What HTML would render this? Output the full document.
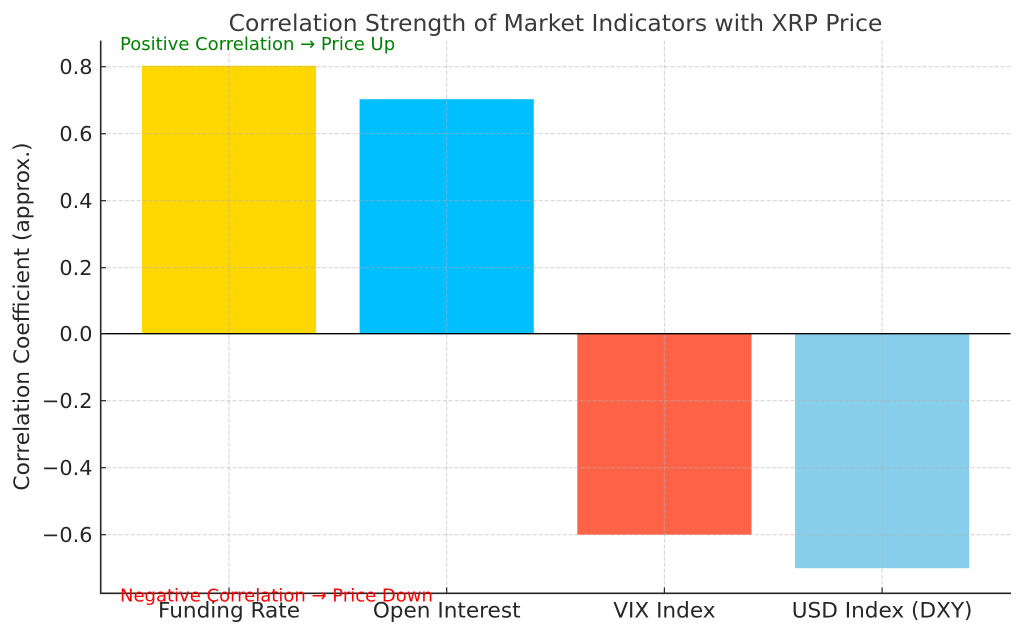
<!DOCTYPE html>
<html>
<head>
<meta charset="utf-8">
<style>
html,body{margin:0;padding:0;background:#fff;}
svg{display:block;}
text{font-family:"DejaVu Sans","Liberation Sans",sans-serif;}
</style>
</head>
<body>
<svg width="1024" height="635" viewBox="0 0 1024 635" xmlns="http://www.w3.org/2000/svg">
<rect width="1024" height="635" fill="#fff"/>
<!-- bars -->
<rect x="141.9" y="65.7" width="174.2" height="268" fill="#FFD700"/>
<rect x="359.6" y="99.2" width="174.2" height="234.5" fill="#00BFFF"/>
<rect x="577.3" y="333.7" width="174.2" height="201" fill="#FF6347"/>
<rect x="795" y="333.7" width="174.2" height="234.5" fill="#87CEEB"/>
<!-- grid -->
<g stroke="#b0b0b0" stroke-opacity="0.6" stroke-width="1" stroke-dasharray="4,2" fill="none">
<line x1="100.6" y1="66.7" x2="1010.5" y2="66.7"/>
<line x1="100.6" y1="133.7" x2="1010.5" y2="133.7"/>
<line x1="100.6" y1="200.7" x2="1010.5" y2="200.7"/>
<line x1="100.6" y1="267.7" x2="1010.5" y2="267.7"/>
<line x1="100.6" y1="400.7" x2="1010.5" y2="400.7"/>
<line x1="100.6" y1="467.7" x2="1010.5" y2="467.7"/>
<line x1="100.6" y1="534.7" x2="1010.5" y2="534.7"/>
<line x1="229" y1="40.6" x2="229" y2="593"/>
<line x1="446.7" y1="40.6" x2="446.7" y2="593"/>
<line x1="664.4" y1="40.6" x2="664.4" y2="593"/>
<line x1="882.1" y1="40.6" x2="882.1" y2="593"/>
</g>
<!-- zero line -->
<line x1="100.6" y1="333.7" x2="1010.5" y2="333.7" stroke="#000" stroke-width="1.3"/>
<!-- spines -->
<line x1="100.7" y1="40.6" x2="100.7" y2="593.8" stroke="#262626" stroke-width="1.6"/>
<line x1="100" y1="593.3" x2="1011" y2="593.3" stroke="#262626" stroke-width="1.6"/>
<!-- ticks -->
<g stroke="#262626" stroke-width="1.2">
<line x1="100.7" y1="66.7" x2="106" y2="66.7"/>
<line x1="100.7" y1="133.7" x2="106" y2="133.7"/>
<line x1="100.7" y1="200.7" x2="106" y2="200.7"/>
<line x1="100.7" y1="267.7" x2="106" y2="267.7"/>
<line x1="100.7" y1="333.7" x2="106" y2="333.7"/>
<line x1="100.7" y1="400.7" x2="106" y2="400.7"/>
<line x1="100.7" y1="467.7" x2="106" y2="467.7"/>
<line x1="100.7" y1="534.7" x2="106" y2="534.7"/>
<line x1="229" y1="593" x2="229" y2="587.5"/>
<line x1="446.7" y1="593" x2="446.7" y2="587.5"/>
<line x1="664.4" y1="593" x2="664.4" y2="587.5"/>
<line x1="882.1" y1="593" x2="882.1" y2="587.5"/>
</g>
<!-- y tick labels -->
<g fill="#262626" font-size="20.8" text-anchor="end">
<text x="92.5" y="74.2">0.8</text>
<text x="92.5" y="141.2">0.6</text>
<text x="92.5" y="208.2">0.4</text>
<text x="92.5" y="275.2">0.2</text>
<text x="92.5" y="341.2">0.0</text>
<text x="92.5" y="408.2">−0.2</text>
<text x="92.5" y="475.2">−0.4</text>
<text x="92.5" y="542.2">−0.6</text>
</g>
<!-- x tick labels -->
<g fill="#262626" font-size="21.6" text-anchor="middle">
<text x="229" y="617.5">Funding Rate</text>
<text x="446.7" y="617.5">Open Interest</text>
<text x="664.4" y="617.5">VIX Index</text>
<text x="882.1" y="617.5">USD Index (DXY)</text>
</g>
<!-- y label -->
<text transform="translate(29,316.5) rotate(-90)" text-anchor="middle" font-size="21.7" fill="#262626">Correlation Coefficient (approx.)</text>
<!-- title -->
<text x="555.5" y="31" text-anchor="middle" font-size="23.4" fill="#3a3a3a">Correlation Strength of Market Indicators with XRP Price</text>
<!-- annotations -->
<text x="120" y="50" font-size="18" fill="#008000">Positive Correlation → Price Up</text>
<text x="120" y="601.5" font-size="18" fill="#FF0000">Negative Correlation → Price Down</text>
</svg>
</body>
</html>
